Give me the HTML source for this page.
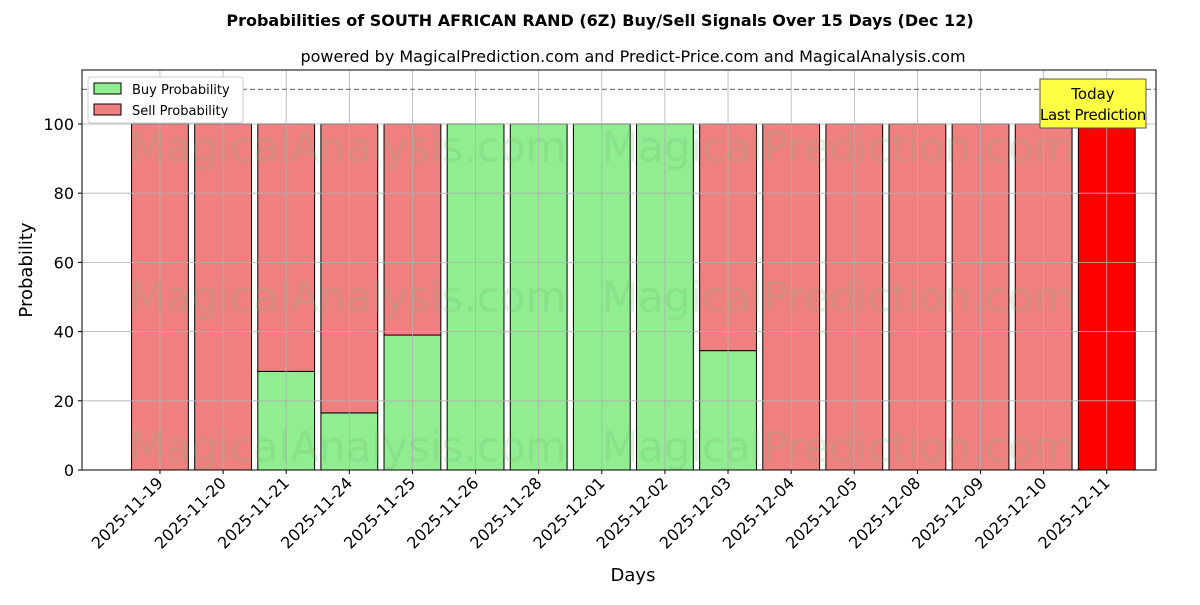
<!DOCTYPE html>
<html><head><meta charset="utf-8"><style>
body{margin:0;background:#fff;font-family:"Liberation Sans","DejaVu Sans",sans-serif}
</style></head><body>
<svg id="c" width="1200" height="600" xmlns="http://www.w3.org/2000/svg" font-family="DejaVu Sans, Liberation Sans, sans-serif"></svg>
<script>
const dates=["2025-11-19","2025-11-20","2025-11-21","2025-11-24","2025-11-25","2025-11-26","2025-11-28","2025-12-01","2025-12-02","2025-12-03","2025-12-04","2025-12-05","2025-12-08","2025-12-09","2025-12-10","2025-12-11"];
const buyValues=[0,0,28.5,16.5,39,100,100,100,100,34.5,0,0,0,0,0,0];
const sellValues=[100,100,71.5,83.5,61,0,0,0,0,65.5,100,100,100,100,100,100];
const yTicks=[0,20,40,60,80,100];
const svg=document.getElementById('c');
const NS="http://www.w3.org/2000/svg";
const L=82,R=1156,T=70,B=470;
const xMin=-1.235,xMax=15.78,yMax=115.6;
const xs=i=>L+(i-xMin)/(xMax-xMin)*(R-L);
const ys=v=>B-v/yMax*(B-T);
const bw=0.9*(R-L)/(xMax-xMin);
function el(t,a,txt){const e=document.createElementNS(NS,t);for(const k in a)e.setAttribute(k,a[k]);if(txt!=null)e.textContent=txt;svg.appendChild(e);return e;}
let e;
// bars
dates.forEach((d,i)=>{
 const last=i===dates.length-1;
 if(buyValues[i]>0){e=el('rect',{x:xs(i)-bw/2,y:ys(buyValues[i]),width:bw,height:ys(0)-ys(buyValues[i]),fill:'#90ee90',stroke:'#000','stroke-width':1});
 }
 if(sellValues[i]>0){e=el('rect',{x:xs(i)-bw/2,y:ys(buyValues[i]+sellValues[i]),width:bw,height:ys(buyValues[i])-ys(buyValues[i]+sellValues[i]),fill:last?'#ff0000':'#f08080',stroke:'#000','stroke-width':1});
 }
});
// grid (on top)
yTicks.forEach(v=>{e=el('line',{x1:L,x2:R,y1:ys(v),y2:ys(v),stroke:'#b0b0b0','stroke-width':0.8});
});
dates.forEach((d,i)=>{e=el('line',{x1:xs(i),x2:xs(i),y1:T,y2:B,stroke:'#b0b0b0','stroke-width':0.8});
});
// watermarks
[150,300,450].forEach(y=>{
e=el('text',{x:348,y:y,'font-size':42,fill:'rgba(120,180,120,0.22)','text-anchor':'middle','dominant-baseline':'middle'},'MagicalAnalysis.com');

e=el('text',{x:838,y:y,'font-size':42,fill:'rgba(120,180,120,0.22)','text-anchor':'middle','dominant-baseline':'middle'},'MagicalPrediction.com');
});
// dashed line
e=el('line',{x1:L,x2:R,y1:ys(110),y2:ys(110),stroke:'#808080','stroke-width':1.2,'stroke-dasharray':'5,3'});

// frame
e=el('rect',{x:L,y:T,width:R-L,height:B-T,fill:'none',stroke:'#000','stroke-width':1});

// y ticks
yTicks.forEach(v=>{el('line',{x1:L-4,x2:L,y1:ys(v),y2:ys(v),stroke:'#000'});
e=el('text',{x:L-8,y:ys(v)+6,'font-size':16,'text-anchor':'end'},v);
});
// x ticks
dates.forEach((d,i)=>{el('line',{x1:xs(i),x2:xs(i),y1:B,y2:B+4,stroke:'#000'});
e=el('text',{x:xs(i)+4,y:B+14,'font-size':16,'text-anchor':'end',transform:`rotate(-45 ${xs(i)+4} ${B+14})`},d);
});
// titles
e=el('text',{x:600,y:26,'font-size':16,'font-weight':'bold','text-anchor':'middle'},'Probabilities of SOUTH AFRICAN RAND (6Z) Buy/Sell Signals Over 15 Days (Dec 12)');

e=el('text',{x:633,y:62,'font-size':16,'text-anchor':'middle'},'powered by MagicalPrediction.com and Predict-Price.com and MagicalAnalysis.com');

e=el('text',{x:633,y:581,'font-size':18,'text-anchor':'middle'},'Days');

e=el('text',{x:32,y:270,'font-size':18,'text-anchor':'middle',transform:'rotate(-90 32 270)'},'Probability');

// legend
e=el('rect',{x:88,y:77,width:155,height:46,fill:'#fff',stroke:'#ccc',rx:3});

e=el('rect',{x:94,y:83,width:27,height:11,fill:'#90ee90',stroke:'#000'});

e=el('text',{x:132,y:94,'font-size':13},'Buy Probability');

e=el('rect',{x:94,y:104,width:27,height:11,fill:'#f08080',stroke:'#000'});

e=el('text',{x:132,y:115,'font-size':13},'Sell Probability');

// annotation
e=el('rect',{x:1040,y:79,width:106,height:49,fill:'#ffff44',stroke:'#555'});

e=el('text',{x:1093,y:99,'font-size':15,'text-anchor':'middle'},'Today');

e=el('text',{x:1093,y:120,'font-size':15,'text-anchor':'middle','letter-spacing':'-0.3'},'Last Prediction');

</script>
</body></html>
